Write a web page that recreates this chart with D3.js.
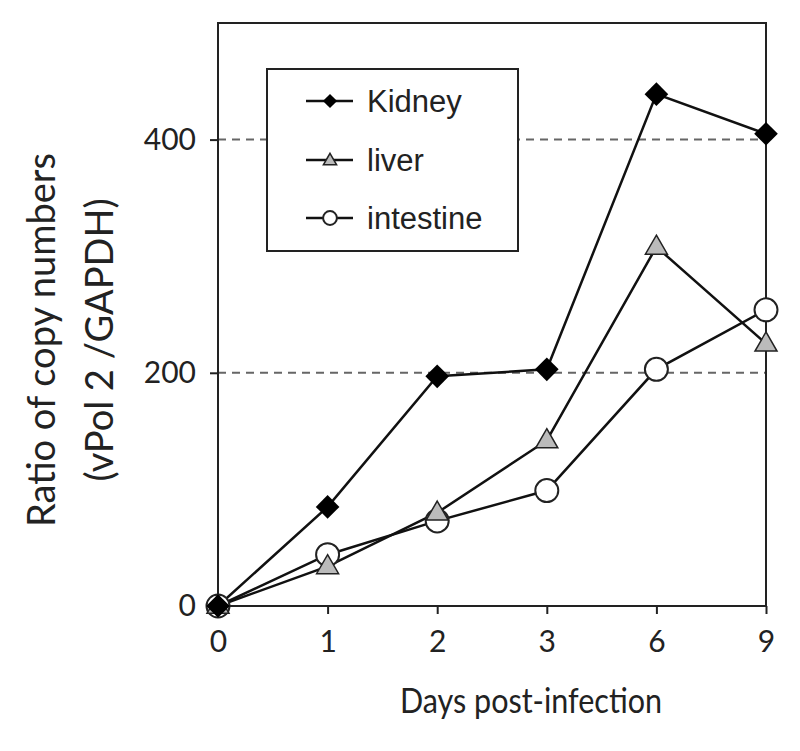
<!DOCTYPE html>
<html><head><meta charset="utf-8">
<script src="https://cdn.jsdelivr.net/npm/d3@7"></script>
<style>body{margin:0;background:#fff}</style>
</head><body>
<script>
const days = ["0","1","2","3","6","9"];
const kidney = [0, 85, 197, 203, 439, 405];
const liver = [0, 34, 80, 142, 308, 225];
const intestine = [0, 44, 73, 99, 203, 254];
const yTicks = [0, 200, 400];
const gridValues = [200, 400];
const seriesNames = ["Kidney", "liver", "intestine"];

const W = 800, H = 751;
const m = {left: 218, right: 766, top: 23, bottom: 606};
const svg = d3.select("body").append("svg").attr("width", W).attr("height", H);
const font = "Lato, 'Open Sans', sans-serif";

const x = d3.scalePoint().domain(days).range([m.left, m.right]);
const y = d3.scaleLinear().domain([0, 500]).range([m.bottom, m.top]);

// gridlines
svg.append("g").selectAll("line").data(gridValues).join("line")
  .attr("x1", m.left).attr("x2", m.right)
  .attr("y1", d => y(d)).attr("y2", d => y(d))
  .attr("stroke", "#666").attr("stroke-width", 2).attr("stroke-dasharray", "8,6");

// frame
svg.append("rect").attr("x", m.left).attr("y", m.top)
  .attr("width", m.right - m.left).attr("height", m.bottom - m.top)
  .attr("fill", "none").attr("stroke", "#222").attr("stroke-width", 2);

// axes
const yAxis = svg.append("g").attr("transform", `translate(${m.left},0)`)
  .call(d3.axisLeft(y).tickValues(yTicks).tickSize(8).tickPadding(14));
const xAxis = svg.append("g").attr("transform", `translate(0,${m.bottom})`)
  .call(d3.axisBottom(x).tickSize(8).tickPadding(14));
[yAxis, xAxis].forEach(g => {
  g.select(".domain").remove();
  g.selectAll("line").attr("stroke", "#222").attr("stroke-width", 2);
  g.selectAll("text").attr("font-family", font).attr("font-size", 30).attr("fill", "#222");
});
xAxis.selectAll("text").attr("dy", "0.8em");

// lines & markers
const line = d3.line().x((d, i) => x(days[i])).y(d => y(d));
const data = [kidney, liver, intestine];
data.forEach(s => {
  svg.append("path").datum(s).attr("d", line).attr("fill", "none")
    .attr("stroke", "#111").attr("stroke-width", 2.5);
});
function drawMarker(g, type, cx, cy, s) {
  if (type === 0) {
    g.append("path").attr("d", d3.symbol().type(d3.symbolSquare).size(280 * s * s)())
      .attr("transform", `translate(${cx},${cy}) rotate(45)`).attr("fill", "#000");
  } else if (type === 1) {
    g.append("path").attr("d", d3.symbol().type(d3.symbolTriangle).size(210 * s * s)())
      .attr("transform", `translate(${cx},${cy + 1})`)
      .attr("fill", "#bbb").attr("stroke", "#222").attr("stroke-width", 1.5);
  } else {
    g.append("circle").attr("cx", cx).attr("cy", cy).attr("r", 11.5 * s)
      .attr("fill", "#fff").attr("stroke", "#222").attr("stroke-width", 2);
  }
}
const mg = svg.append("g");
[2, 1, 0].forEach(t => {
  data[t].forEach((v, i) => drawMarker(mg, t, x(days[i]), y(v), 1));
});

// legend
const lg = svg.append("g");
lg.append("rect").attr("x", 267).attr("y", 69).attr("width", 251).attr("height", 182)
  .attr("fill", "#fff").attr("stroke", "#222").attr("stroke-width", 2);
const ly = [101, 160, 218];
seriesNames.forEach((n, i) => {
  lg.append("line").attr("x1", 306).attr("x2", 353).attr("y1", ly[i]).attr("y2", ly[i])
    .attr("stroke", "#111").attr("stroke-width", 2.5);
  drawMarker(lg, i, 330, ly[i], 0.6);
  lg.append("text").attr("x", 367).attr("y", ly[i]).attr("dy", "0.36em")
    .attr("font-family", "'Liberation Sans', Arial, sans-serif").attr("font-size", 31)
    .attr("fill", "#222").text(n);
});

// axis titles
svg.append("text").attr("x", 400).attr("y", 713)
  .attr("font-family", font).attr("font-size", 34)
  .attr("textLength", 262).attr("lengthAdjust", "spacingAndGlyphs")
  .attr("fill", "#222").text("Days post-infection");
const yt = svg.append("text").attr("transform", "translate(0,340) rotate(-90)")
  .attr("text-anchor", "middle").attr("font-family", font).attr("font-size", 38).attr("fill", "#222");
yt.append("tspan").attr("x", 0).attr("y", 55).text("Ratio of copy numbers");
yt.append("tspan").attr("x", 0).attr("y", 113).text("(vPol 2 /GAPDH)");
</script>
</body></html>
